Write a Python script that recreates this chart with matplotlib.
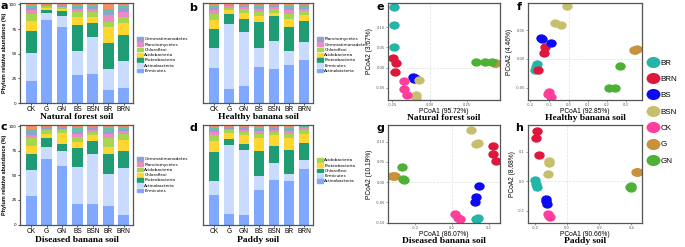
import matplotlib.pyplot as plt
import numpy as np
from matplotlib.path import Path
from matplotlib.transforms import Affine2D
from matplotlib.patches import Patch
from matplotlib.lines import Line2D

W, H = 685, 247

groups = ['CK', 'G', 'GN', 'BS', 'BSN', 'BR', 'BRN']

# stack colours, bottom to top (last two = minor phyla on top)
stack_cols = ['#80a8ff', '#c9dbff', '#1f9c73', '#ffd630', '#a6d650',
              '#e98bc4', '#8fa1cc', '#62c3a6', '#fc8d62']

# ---- a: natural forest soil (rows bottom -> top)
a_names = ['Firmicutes', 'Actinobacteria', 'Proteobacteria', 'Acidobacteria',
           'Chloroflexi', 'Planctomycetes', 'Gemmatimonadetes']
a_vals = [[22, 84.5, 77, 28, 29.5, 13.5, 15.5],
          [29, 6.5, 11, 25, 37, 21, 27],
          [22.5, 3.5, 5, 26.5, 14.5, 26.5, 26.5],
          [9.5, 2, 2, 7.5, 6, 16, 12],
          [7.5, 1.5, 2, 5, 5, 5, 6],
          [3.5, 0.5, 0.7, 3, 3, 7.5, 5],
          [2, 0.5, 0.7, 2, 2, 3, 4],
          [2.5, 0.6, 1, 2, 2, 3, 2.5],
          [1.5, 0.4, 0.6, 1, 1, 4.5, 1.5]]

# ---- b: healthy banana soil
b_names = ['Actinobacteria', 'Firmicutes', 'Proteobacteria', 'Acidobacteria',
           'Chloroflexi', 'Gemmatimonadetes', 'Planctomycetes']
b_vals = [[35.5, 14, 17, 37, 35, 39, 44],
          [20.5, 66.5, 55, 19, 28, 14, 18],
          [19.5, 10, 13.5, 26, 25, 24, 21],
          [8.5, 3.5, 5.5, 6, 3.5, 8, 6],
          [6.5, 2.5, 4, 4, 3.5, 5, 4],
          [3.5, 1.5, 2, 3.5, 2, 4, 2.5],
          [2.5, 0.8, 1, 2, 1.5, 2.5, 2],
          [2, 0.7, 1.2, 1.5, 1, 2, 1.5],
          [1.5, 0.5, 0.8, 1, 0.5, 1.5, 1]]

# ---- c: diseased banana soil
c_names = ['Firmicutes', 'Actinobacteria', 'Proteobacteria', 'Chloroflexi',
           'Acidobacteria', 'Planctomycetes', 'Gemmatimonadetes']
c_vals = [[29, 67, 60, 21, 21, 19, 9.5],
          [27, 12, 15, 37.5, 50.5, 32.5, 48.5],
          [16, 9, 7.5, 19.5, 13.5, 20.5, 16.5],
          [8, 4, 10.5, 6, 6, 7, 12],
          [8, 4, 3, 5, 3, 9.5, 6],
          [3.5, 1.5, 1.5, 3.5, 2.5, 4, 3],
          [2.5, 1, 1, 2.5, 1.5, 2.5, 2],
          [3.5, 1, 1, 3, 1.2, 3, 1.5],
          [2.5, 0.5, 0.5, 2, 0.8, 2, 1]]

# ---- d: paddy soil
d_names = ['Actinobacteria', 'Firmicutes', 'Chloroflexi', 'Proteobacteria',
           'Acidobacteria']
d_vals = [[30.5, 11, 9.5, 35, 45.5, 44, 56.5],
          [14, 70, 66.5, 14, 17, 7.5, 9.5],
          [29.5, 6, 6.5, 26, 17.5, 25, 17.5],
          [11, 6, 8.5, 13, 11, 11.5, 9],
          [6, 3, 3, 4.5, 3, 4.5, 3.5],
          [3, 1.5, 2.5, 2.5, 2.5, 2.5, 2.5],
          [2.5, 1, 1.5, 2, 1.5, 2, 0.5],
          [2, 1, 1.2, 1.8, 1.2, 1.8, 1],
          [1.5, 0.5, 0.8, 1.2, 0.8, 1.2, 0]]

# ---- PCoA, 3 replicates per treatment in this order
treat = ['BR', 'BRN', 'BS', 'BSN', 'CK', 'G', 'GN']
treat_cols = ['#22b5a8', '#e0173c', '#0a0af5', '#c6bf6e', '#ff3d9a', '#c8913a', '#4db135']

e_x = [-0.241, -0.243, -0.241, -0.248, -0.225, -0.230, -0.113, -0.101, -0.106,
       -0.074, -0.095, -0.095, -0.173, -0.173, -0.151, 0.440, 0.445, 0.436,
       0.311, 0.372, 0.417]
e_y = [0.152, 0.105, 0.050, 0.023, 0.011, -0.010, -0.024, -0.027, -0.029,
       -0.031, -0.068, -0.076, -0.033, -0.054, -0.068, 0.011, 0.012, 0.011,
       0.013, 0.013, 0.013]
f_x = [-0.165, -0.174, -0.170, -0.125, -0.130, -0.160, -0.143, -0.092, -0.138,
       -0.009, -0.073, -0.038, -0.104, -0.092, -0.110, 0.339, 0.357, 0.348,
       0.270, 0.209, 0.240]
f_y = [-0.009, -0.019, -0.015, 0.020, 0.011, -0.019, 0.036, 0.027, 0.034,
       0.091, 0.062, 0.058, -0.058, -0.067, -0.061, 0.016, 0.017, 0.015,
       -0.013, -0.050, -0.051]
g_x = [0.133, 0.142, 0.128, 0.224, 0.224, 0.236, 0.145, 0.127, 0.122,
       0.102, 0.138, 0.130, 0.0145, 0.042, 0.030, -0.316, -0.325, -0.310,
       -0.273, -0.264, -0.268]
g_y = [-0.091, -0.089, -0.092, 0.090, 0.070, 0.053, -0.009, -0.037, -0.048,
       0.129, 0.096, 0.094, -0.080, -0.091, -0.088, 0.0156, 0.016, 0.015,
       0.0385, 0.0057, 0.008]
h_x = [-0.197, -0.187, -0.193, -0.1865, -0.190, -0.176, -0.131, -0.124, -0.128,
       -0.114, -0.110, -0.118, -0.120, -0.104, -0.112, 0.431, 0.439, 0.435,
       0.394, 0.400, 0.396]
h_y = [0.004, -0.020, -0.008, 0.172, 0.147, 0.088, -0.062, -0.076, -0.068,
       0.069, 0.063, 0.024, -0.111, -0.120, -0.118, 0.032, 0.032, 0.030,
       -0.020, -0.016, -0.022]


def box(l, t, r, b):
    return [l / W, 1 - b / H, (r - l) / W, (b - t) / H]


def fx(x):
    return x / W


def fy(y):
    return 1 - y / H


fig = plt.figure(figsize=(6.85, 2.47), dpi=100)

serif = 'Liberation Serif'
sans = 'Liberation Sans'


def bar_panel(rect, vals, names, title, title_y, yaxis, leg_xy):
    ax = fig.add_axes(rect)
    x = np.arange(len(groups))
    bottom = np.zeros(len(groups))
    handles = []
    for i, row in enumerate(vals):
        ax.bar(x, row, 0.7, bottom=bottom, color=stack_cols[i], lw=0)
        bottom += np.array(row)
    for i, n in enumerate(names):
        handles.append(Patch(color=stack_cols[i], label=n))
    ax.set_xlim(-0.72, 6.6)
    ax.set_ylim(0, 101.5)
    ax.set_xticks(x)
    ax.set_xticklabels(groups, fontsize=4.8, family=sans)
    ax.tick_params(axis='x', length=1.5, width=0.5, pad=0.8)
    if yaxis:
        ax.set_yticks([0, 25, 50, 75, 100])
        ax.tick_params(axis='y', labelsize=3, length=1.5, width=0.5, pad=1)
        ax.set_ylabel('Phylum relative abundance (%)', fontsize=3.9,
                      fontweight='bold', family=sans, labelpad=1.5)
    else:
        ax.set_yticks([])
    for s in ax.spines.values():
        s.set_color('#555555')
        s.set_linewidth(0.9)
    fig.text(rect[0] + rect[2] / 2, fy(title_y), title, fontsize=6.8,
             fontweight='bold', family=serif, ha='center', va='center')
    fig.legend(handles[::-1], [h.get_label() for h in handles[::-1]],
               loc='upper left', bbox_to_anchor=leg_xy, fontsize=3.1,
               frameon=False, handlelength=1.3, handleheight=1.0,
               labelspacing=0.2, borderpad=0, borderaxespad=0,
               handletextpad=0.4)
    return ax


bar_panel(box(20, 3, 133, 103), a_vals, a_names, 'Natural forest soil', 117,
          True, (fx(137), fy(37)))
bar_panel(box(203, 3, 313, 103), b_vals, b_names, 'Healthy banana soil', 117,
          False, (fx(317), fy(37)))
bar_panel(box(20, 125, 133, 224.5), c_vals, c_names, 'Diseased banana soil', 240,
          True, (fx(137), fy(157)))
bar_panel(box(203, 125, 313, 224.5), d_vals, d_names, 'Paddy soil', 240,
          False, (fx(317), fy(158)))

ell = Path.unit_circle().transformed(Affine2D().scale(1.25, 1.0))


def pcoa_panel(rect, xs, ys, xlim, ylim, xt, xtl, yt, ytl, xlab, ylab,
               title, title_y):
    ax = fig.add_axes(rect)
    ax.axhline(0, color='#e0e0e0', lw=0.5, ls='--', zorder=0)
    ax.axvline(0, color='#e0e0e0', lw=0.5, ls='--', zorder=0)
    for k, t in enumerate(treat):
        ax.plot(xs[3 * k:3 * k + 3], ys[3 * k:3 * k + 3], ls='none',
                marker=ell, ms=7.5, color=treat_cols[k], mew=0)
    ax.set_xlim(xlim)
    ax.set_ylim(ylim)
    ax.set_xticks(xt)
    ax.set_xticklabels(xtl)
    ax.set_yticks(yt)
    ax.set_yticklabels(ytl)
    ax.tick_params(labelsize=2.6, length=1.2, width=0.4, pad=1,
                   colors='#555555')
    ax.set_xlabel(xlab, fontsize=4.8, family=sans, labelpad=0.5)
    ax.set_ylabel(ylab, fontsize=4.8, family=sans, labelpad=1.5)
    for s in ax.spines.values():
        s.set_color('#555555')
        s.set_linewidth(0.9)
    fig.text(rect[0] + rect[2] / 2, fy(title_y), title, fontsize=6.8,
             fontweight='bold', family=serif, ha='center', va='center')
    return ax


pcoa_panel(box(388, 3, 500, 100), e_x, e_y, (-0.28, 0.473), (-0.081, 0.161),
           [-0.25, 0, 0.25], ['-0.25', '0.00', '0.25'],
           [-0.05, 0, 0.05, 0.10], ['-0.05', '0.00', '0.05', '0.10'],
           'PCoA1 (95.72%)', 'PCoA2 (3.67%)', 'Natural forest soil', 118)
pcoa_panel(box(528, 3, 642, 100), f_x, f_y, (-0.212, 0.383), (-0.0715, 0.097),
           [-0.2, -0.1, 0, 0.1, 0.2, 0.3],
           ['-0.2', '-0.1', '0.0', '0.1', '0.2', '0.3'],
           [-0.05, 0, 0.05], ['-0.05', '0.00', '0.05'],
           'PCoA1 (92.85%)', 'PCoA2 (4.46%)', 'Healthy banana soil', 118)
pcoa_panel(box(388, 125, 500, 223), g_x, g_y, (-0.349, 0.26), (-0.101, 0.141),
           [-0.2, 0, 0.2], ['-0.2', '0.0', '0.2'],
           [-0.10, -0.05, 0, 0.05, 0.10],
           ['-0.10', '-0.05', '0.00', '0.05', '0.10'],
           'PCoA1 (86.07%)', 'PCoA2 (10.19%)', 'Diseased banana soil', 241)
pcoa_panel(box(528, 125, 642, 223), h_x, h_y, (-0.2425, 0.466), (-0.142, 0.191),
           [-0.2, 0, 0.2, 0.4], ['-0.2', '0.0', '0.2', '0.4'],
           [-0.1, 0, 0.1], ['-0.1', '0.0', '0.1'],
           'PCoA1 (90.66%)', 'PCoA2 (8.68%)', 'Paddy soil', 241)

# treatment legend
leg_h = [Line2D([], [], ls='none', marker=ell, ms=10, mew=0, color=c)
         for c in treat_cols]
fig.legend(leg_h, treat, loc='upper left', bbox_to_anchor=(fx(647), fy(59)),
           prop={'family': sans, 'size': 5.8}, frameon=False,
           labelspacing=1.08, borderpad=0, borderaxespad=0,
           handletextpad=0.3, handlelength=1.4)

# panel letters
for lab, (px, py) in zip('abcdefgh', [(4, 6), (193, 8), (4, 127), (193, 128),
                                     (380, 7), (519, 7), (380, 128), (519, 128)]):
    fig.text(fx(px), fy(py), lab, fontsize=8, fontweight='bold',
             ha='center', va='center')

fig.savefig('out.png', dpi=100)
